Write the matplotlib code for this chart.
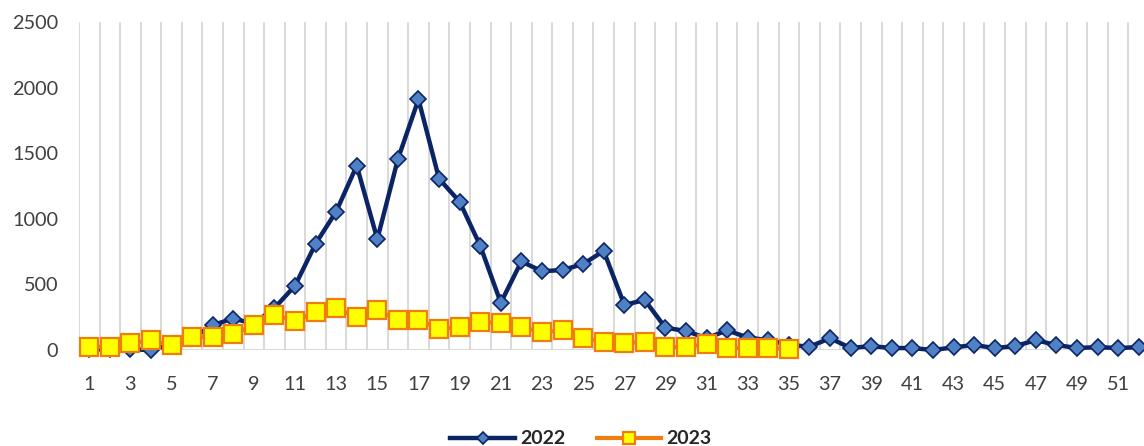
import numpy as np
import matplotlib.pyplot as plt

weeks_2022 = list(range(1, 53))
cases_2022 = [5, 5, 5, 0, 40, 90, 190, 240, 200, 320, 490, 810, 1055, 1405, 845, 1455,
              1910, 1305, 1130, 795, 360, 675, 600, 610, 655, 755, 345, 380, 170, 145,
              90, 150, 95, 75, 40, 25, 90, 15, 30, 15, 15, 0, 20, 38, 15, 30,
              75, 38, 15, 22, 15, 22]

weeks_2023 = list(range(1, 36))
cases_2023 = [25, 25, 53, 76, 38, 99, 99, 122, 190, 267, 221, 290, 320, 251, 305, 229,
              229, 160, 175, 213, 206, 175, 137, 152, 91, 61, 53, 61, 23, 23,
              46, 15, 15, 15, 8]

ytick_vals = [0, 500, 1000, 1500, 2000, 2500]
xtick_vals = list(range(1, 53, 2))

plt.rcParams['font.family'] = ['Lato', 'DejaVu Sans']

fig = plt.figure(figsize=(11.44, 4.46), dpi=100)
ax = fig.add_axes([0.069, 0.2152, 0.9354, 0.7355])

# vertical gridlines between categories
for b in np.arange(0.5, 53, 1):
    ax.axvline(b, color='#d9d9d9', lw=1.4, zorder=0)
ax.axhline(0, color='#d9d9d9', lw=1.4, zorder=0)

ax.plot(weeks_2022, cases_2022, color='#0b2466', lw=3.2, marker='D', ms=8.5,
        mfc='#4f81c4', mec='#0b2466', mew=1.2, label='2022', zorder=3, clip_on=False)
ax.plot(weeks_2023, cases_2023, color='#ef7d10', lw=3.0, marker='s', ms=12.5,
        mfc='#ffff00', mec='#ef7d10', mew=1.6, label='2023', zorder=4, clip_on=False)

ax.set_xlim(0.5, 52.5)
ax.set_ylim(0, 2500)
ax.set_yticks(ytick_vals)
ax.set_xticks(xtick_vals)
ax.set_xticklabels([str(v) for v in xtick_vals])
ax.tick_params(axis='both', length=0, labelsize=14.3, labelcolor='#404040')
ax.tick_params(axis='y', pad=15)
ax.tick_params(axis='x', pad=19)
for s in ax.spines.values():
    s.set_visible(False)

leg = fig.legend(loc='center', bbox_to_anchor=(0.508, 0.016), ncol=2, frameon=False,
                 handlelength=3.3, columnspacing=1.6, handletextpad=0.3,
                 markerscale=0.7, prop={'weight': 'bold', 'size': 14})
for t in leg.get_texts():
    t.set_color('#262626')

fig.savefig('out.png', dpi=100)
